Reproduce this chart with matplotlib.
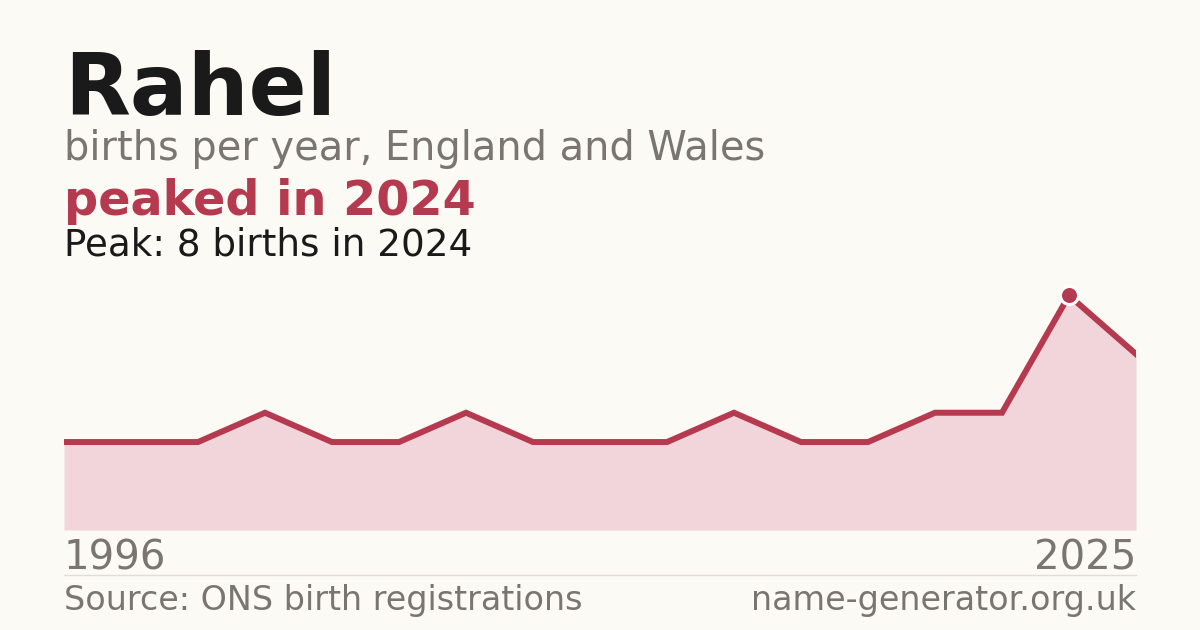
import matplotlib
matplotlib.use('Agg')
import matplotlib.pyplot as plt
from matplotlib.lines import Line2D

NAME = 'Rahel'
SUBTITLE = 'births per year, England and Wales'
HEADLINE = 'peaked in 2024'
PEAK_NOTE = 'Peak: 8 births in 2024'
SOURCE = 'Source: ONS birth registrations'
SITE = 'name-generator.org.uk'

# years with recorded births (gaps are years with too few to report)
years = [1996, 1998, 2000, 2002, 2004, 2006, 2008, 2009, 2011, 2013,
         2015, 2017, 2019, 2021, 2022, 2024, 2025]
births = [3, 3, 3, 4, 3, 3, 4, 3, 3, 3, 4, 3, 3, 4, 4, 8, 6]

BG = '#fbfaf5'
RED = '#b5394f'
FILL = '#f2d5da'
GREY = '#7a7570'
DARK = '#1a1a1a'

W, H = 1200, 630
fig = plt.figure(figsize=(W / 100, H / 100), dpi=100, facecolor=BG)

def fx(px):
    return px / W

def fy(py):
    return 1 - py / H

ax = fig.add_axes([fx(64), fy(530), fx(1136) - fx(64), fy(272) - fy(530)])
ax.set_facecolor(BG)
idx = list(range(len(births)))
ax.fill_between(idx, births, 0, color=FILL, lw=0)
ax.plot(idx, births, color=RED, lw=4.3, solid_joinstyle='miter')
peak = births.index(max(births))
ax.plot(peak, births[peak], 'o', ms=13, color=RED, mec='white', mew=2.2, zorder=5)
ax.set_xlim(0, len(births) - 1)
ax.set_ylim(0, max(births) * 1.1)
ax.axis('off')

fig.text(fx(64), fy(115), NAME, fontsize=61.7, fontweight='bold', color=DARK, va='baseline')
fig.text(fx(64), fy(160), SUBTITLE, fontsize=28.7, color=GREY, va='baseline')
fig.text(fx(64), fy(215), HEADLINE, fontsize=34.4, fontweight='bold', color=RED, va='baseline')
fig.text(fx(64), fy(255), PEAK_NOTE, fontsize=26.8, color=DARK, va='baseline')

fig.text(fx(64), fy(570), str(years[0]), fontsize=29, color=GREY, va='baseline')
fig.text(fx(1136), fy(570), str(years[-1]), fontsize=29, color=GREY, va='baseline', ha='right')
fig.add_artist(Line2D([fx(64), fx(1136)], [fy(575), fy(575)], color='#e0ddd6', lw=1))
fig.text(fx(64), fy(610), SOURCE, fontsize=24, color=GREY, va='baseline')
fig.text(fx(1136), fy(610), SITE, fontsize=24, color=GREY, va='baseline', ha='right')

fig.savefig('out.png', dpi=100, facecolor=BG)
